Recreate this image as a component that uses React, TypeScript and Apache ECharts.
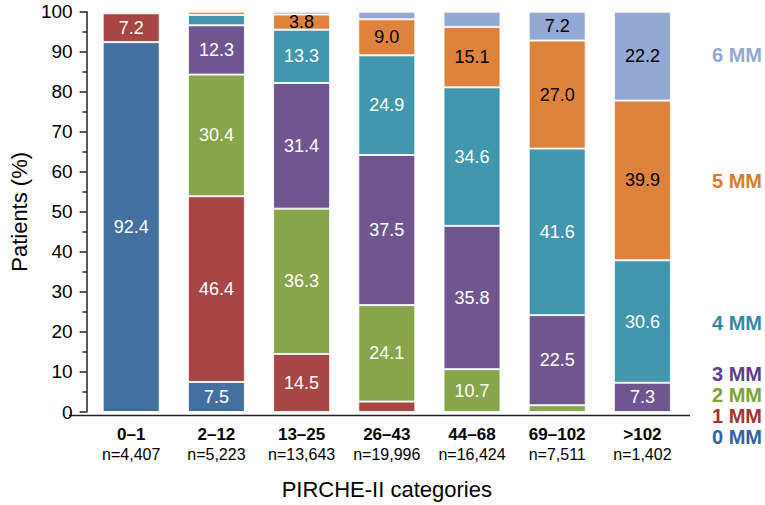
import React, { useEffect, useRef } from "react";
import * as echarts from "echarts";

const categories = ["0–1", "2–12", "13–25", "26–43", "44–68", "69–102", ">102"];
const counts = ["n=4,407", "n=5,223", "n=13,643", "n=19,996", "n=16,424", "n=7,511", "n=1,402"];
const levels = ["0 MM", "1 MM", "2 MM", "3 MM", "4 MM", "5 MM", "6 MM"];
const mm0 = [92.4, 7.5, 0, 0, 0, 0, 0];
const mm1 = [7.2, 46.4, 14.5, 2.6, 0, 0, 0];
const mm2 = [0.4, 30.4, 36.3, 24.1, 10.7, 1.7, 0];
const mm3 = [0, 12.3, 31.4, 37.5, 35.8, 22.5, 7.3];
const mm4 = [0, 2.6, 13.3, 24.9, 34.6, 41.6, 30.6];
const mm5 = [0, 0.8, 3.8, 9.0, 15.1, 27.0, 39.9];
const mm6 = [0, 0, 0.7, 1.9, 3.8, 7.2, 22.2];
const yTicks = [0, 10, 20, 30, 40, 50, 60, 70, 80, 90, 100];
// segments whose value label is not printed in the reference: [level index, category index]
const unlabeled = [[6, 4]];

const seriesData = [mm0, mm1, mm2, mm3, mm4, mm5, mm6];
const barColors = ["#44709f", "#a84646", "#88a54c", "#6f568f", "#4297ae", "#de833b", "#93a8d2"];
const labelColors = ["#fff", "#fff", "#fff", "#fff", "#fff", "#000", "#000"];
const legendColors = ["#2f64a4", "#a83232", "#7ea23b", "#5e3f8c", "#2f8aa5", "#dc7a2e", "#93a8d2"];

const FONT = "'Liberation Sans', Arial, Helvetica, sans-serif";

export default function App() {
  const ref = useRef<HTMLDivElement>(null);
  useEffect(() => {
    if (!ref.current) return;
    const chart = echarts.init(ref.current, undefined, { renderer: "svg" });
    const series = seriesData.map((vals, i) => ({
      name: levels[i],
      type: "bar",
      stack: "total",
      barWidth: 57,
      data: vals.map((v) => (v === 0 ? "-" : v)),
      itemStyle: { color: barColors[i], borderColor: "rgba(255,255,255,0.85)", borderWidth: 1 },
      label: {
        show: true,
        position: "inside",
        color: labelColors[i],
        fontSize: 18,
        fontFamily: FONT,
        formatter: (p: any) => {
          if (unlabeled.some(([s, c]) => s === i && c === p.dataIndex)) return "";
          return typeof p.value === "number" && p.value >= 3.5 ? p.value.toFixed(1) : "";
        },
      },
    }));

    const legendY = [438, 417, 396, 375, 324, 182, 56];
    const graphic: any[] = levels.map((lv, i) => ({
      type: "text",
      right: 3,
      top: legendY[i] - 11,
      style: {
        text: lv,
        fill: legendColors[i],
        font: `bold 20px ${FONT}`,
        textAlign: "right",
      },
    }));
    graphic.push({
      type: "line",
      shape: { x1: 69, y1: 415.5, x2: 690, y2: 415.5 },
      style: { stroke: "#222", lineWidth: 1.5 },
    });

    chart.setOption({
      animation: false,
      textStyle: { fontFamily: FONT },
      grid: { left: 78, right: 80, top: 11.7, bottom: 89.5 },
      xAxis: {
        type: "category",
        data: categories,
        axisLine: { show: false },
        axisTick: { show: false },
        axisLabel: {
          interval: 0,
          margin: 12,
          formatter: (v: string, idx: number) => `{b|${v}}\n{n|${counts[idx]}}`,
          rich: {
            b: { fontSize: 17, fontWeight: "bold", color: "#000", lineHeight: 20, fontFamily: FONT },
            n: { fontSize: 16, color: "#000", lineHeight: 20, fontFamily: FONT },
          },
        },
        name: "PIRCHE-II categories",
        nameLocation: "middle",
        nameGap: 66,
        nameTextStyle: { fontSize: 22, color: "#000", fontFamily: FONT },
      },
      yAxis: {
        type: "value",
        min: yTicks[0],
        max: yTicks[yTicks.length - 1],
        interval: 10,
        offset: 2,
        axisLine: { show: true, lineStyle: { color: "#222", width: 1.5 } },
        axisTick: { show: true, length: 7, lineStyle: { color: "#222", width: 1.5 } },
        minorTick: { show: true, splitNumber: 2, length: 4, lineStyle: { color: "#222", width: 1.5 } },
        splitLine: { show: false },
        axisLabel: { fontSize: 19, color: "#000", margin: 14, fontFamily: FONT },
        name: "Patients (%)",
        nameLocation: "middle",
        nameGap: 48,
        nameTextStyle: { fontSize: 22, color: "#000", fontFamily: FONT },
      },
      series,
      graphic,
    });
    return () => chart.dispose();
  }, []);
  return (
    <div
      ref={ref}
      style={{ position: "fixed", left: 0, top: 0, width: 765, height: 505, background: "#fff" }}
    />
  );
}
